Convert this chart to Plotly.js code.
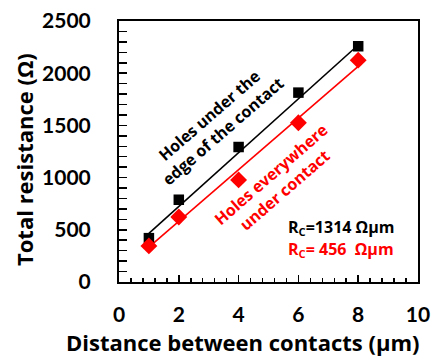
<!DOCTYPE html>
<html>
<head>
<meta charset="utf-8">
<script src="https://cdn.plot.ly/plotly-3.0.1.min.js"></script>
<style>html,body{margin:0;padding:0;background:#fff;}#chart{width:431px;height:358px;}</style>
</head>
<body>
<div id="chart"></div>
<script>
// Data
const distance = [1, 2, 4, 6, 8];
const edgeResistance = [420, 788, 1293, 1814, 2258];
const everywhereResistance = [346, 622, 978, 1526, 2125];
// Linear fit lines (end points)
const fitX = [1, 8];
const edgeFitY = [465, 2270];
const everywhereFitY = [335, 2065];
const xTicks = [0, 2, 4, 6, 8, 10];
const yTicks = [0, 500, 1000, 1500, 2000, 2500];

const TICKFONT = 'Lato, "Open Sans", sans-serif';
const FONT = '"Open Sans", Lato, sans-serif';
const RED = '#ff0000';

const traces = [
  {x: fitX, y: edgeFitY, mode: 'lines', line: {color: '#000', width: 1.6}, showlegend: false, hoverinfo: 'skip'},
  {x: fitX, y: everywhereFitY, mode: 'lines', line: {color: RED, width: 1.6}, showlegend: false, hoverinfo: 'skip'},
  {x: distance, y: edgeResistance, mode: 'markers', name: 'Holes under the edge of the contact',
   marker: {symbol: 'square', size: 10.5, color: '#000'}, showlegend: false},
  {x: distance, y: everywhereResistance, mode: 'markers', name: 'Holes everywhere under contact',
   marker: {symbol: 'diamond', size: 13, color: RED}, showlegend: false}
];

const layout = {
  width: 431, height: 358,
  margin: {l: 119, r: 13, t: 21, b: 76},
  paper_bgcolor: '#fff', plot_bgcolor: '#fff',
  showlegend: false,
  font: {family: FONT, color: '#000'},
  xaxis: {
    range: [0, 10], tickvals: xTicks, ticktext: xTicks.map(String),
    showgrid: false, zeroline: false,
    showline: true, mirror: true, linecolor: '#000', linewidth: 2,
    ticks: 'inside', ticklen: 7, tickwidth: 1.5, tickcolor: '#000',
    minor: {dtick: 0.4, tick0: 0, ticks: 'inside', ticklen: 4, tickwidth: 1.5, tickcolor: '#000', showgrid: false},
    ticklabelstandoff: 13,
    tickfont: {family: TICKFONT, size: 21, weight: 'bold', color: '#000'}
  },
  yaxis: {
    range: [0, 2500], tickvals: yTicks, ticktext: yTicks.map(String),
    showgrid: false, zeroline: false,
    showline: true, mirror: true, linecolor: '#000', linewidth: 2,
    ticks: 'inside', ticklen: 8, tickwidth: 1.5, tickcolor: '#000',
    minor: {dtick: 100, tick0: 0, ticks: 'inside', ticklen: 8, tickwidth: 1.5, tickcolor: '#000', showgrid: false},
    ticklabelstandoff: 22,
    tickfont: {family: TICKFONT, size: 21, weight: 'bold', color: '#000'}
  },
  annotations: [
    {text: 'Distance between contacts (µm)', xref: 'paper', yref: 'paper', x: (243 - 119) / 299, y: -(342 - 282) / 261,
     xanchor: 'center', yanchor: 'middle', showarrow: false,
     font: {family: FONT, size: 22, weight: 'bold', color: '#000'}},
    {text: 'Total resistance (Ω)', xref: 'paper', yref: 'paper', x: -(119 - 24) / 299, y: (282 - 160) / 261,
     xanchor: 'center', yanchor: 'middle', textangle: -90, showarrow: false,
     font: {family: FONT, size: 22, weight: 'bold', color: '#000'}},
    {text: 'Holes under the<br>edge of the contact', x: 3.24, y: 1520, xref: 'x', yref: 'y',
     textangle: -41, showarrow: false, xanchor: 'center', yanchor: 'middle',
     font: {family: FONT, size: 16, weight: 'bold', color: '#000'}},
    {text: 'Holes everywhere<br>under contact', x: 5.30, y: 955, xref: 'x', yref: 'y',
     textangle: -41, showarrow: false, xanchor: 'center', yanchor: 'middle',
     font: {family: FONT, size: 16, weight: 'bold', color: RED}},
    {text: 'R<sub>C</sub>=1314 Ωµm', x: 5.6, y: 519, xref: 'x', yref: 'y', showarrow: false,
     xanchor: 'left', yanchor: 'middle', font: {family: FONT, size: 16, weight: 'bold', color: '#000'}},
    {text: 'R<sub>C</sub>= 456&nbsp;&nbsp;Ωµm', x: 5.6, y: 308, xref: 'x', yref: 'y', showarrow: false,
     xanchor: 'left', yanchor: 'middle', font: {family: FONT, size: 16, weight: 'bold', color: RED}}
  ]
};

Plotly.newPlot('chart', traces, layout, {displayModeBar: false, staticPlot: true});
</script>
</body>
</html>
